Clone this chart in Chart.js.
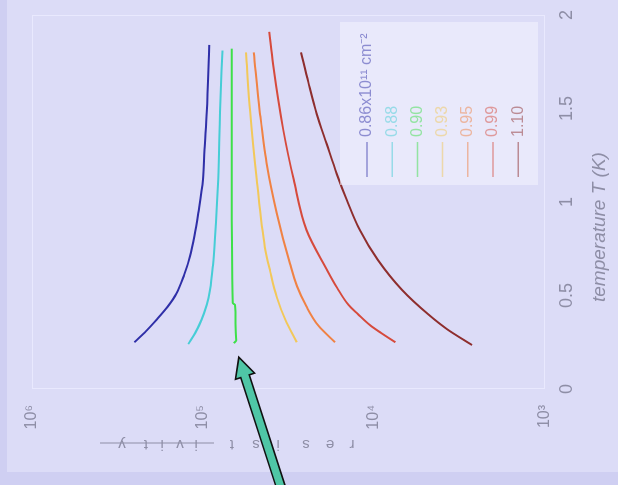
<!DOCTYPE html>
<html>
<head>
<meta charset="utf-8">
<script src="https://cdn.jsdelivr.net/npm/chart.js@4/dist/chart.umd.min.js"></script>
<style>
  html, body { margin: 0; padding: 0; width: 618px; height: 485px; overflow: hidden; background: #cfcff2; }
  /* the figure is laid out upright and then turned a quarter turn counter-clockwise */
  #frame { position: absolute; left: 0; top: 0; width: 485px; height: 618px;
           transform-origin: 0 0; transform: translate(0, 485px) rotate(-90deg); }
</style>
</head>
<body>
<div id="frame"><canvas id="c" width="485" height="618"></canvas></div>
<script>
// electron densities of the seven samples
const densities = ['0.86x10\u00B9\u00B9 cm\u207B\u00B2', '0.88', '0.90', '0.93', '0.95', '0.99', '1.10'];
const lineColors = ['#2f2fa8', '#46cdd6', '#3ee04a', '#f2c85a', '#f08244', '#d64a3c', '#8e2e2e'];

// temperature (K) and resistivity (ohm) for each density
const t086 = [0.25, 0.31, 0.37, 0.44, 0.51, 0.61, 0.71, 0.82, 0.94, 1.12, 1.28, 1.48, 1.84];
const r086 = [2.52e5, 2.15e5, 1.87e5, 1.61e5, 1.43e5, 1.29e5, 1.19e5, 1.12e5, 1.065e5, 1.0e5, 9.8e4, 9.5e4, 9.2e4];

const t088 = [0.24, 0.30, 0.37, 0.45, 0.53, 0.66, 0.81, 1.12, 1.48, 1.81];
const r088 = [1.22e5, 1.11e5, 1.02e5, 9.5e4, 9.1e4, 8.75e4, 8.5e4, 8.15e4, 7.95e4, 7.7e4];

const t090 = [0.245, 0.26, 0.35, 0.45, 0.46, 0.6, 0.9, 1.2, 1.5, 1.82];
const r090 = [6.6e4, 6.4e4, 6.45e4, 6.5e4, 6.7e4, 6.75e4, 6.78e4, 6.8e4, 6.78e4, 6.8e4];

const t093 = [0.25, 0.37, 0.49, 0.63, 0.76, 1.12, 1.48, 1.80];
const r093 = [2.83e4, 3.3e4, 3.7e4, 4.05e4, 4.35e4, 4.85e4, 5.3e4, 5.6e4];

const t095 = [0.25, 0.34, 0.44, 0.55, 0.67, 0.94, 1.21, 1.48, 1.80];
const r095 = [1.69e4, 2.12e4, 2.48e4, 2.82e4, 3.1e4, 3.7e4, 4.25e4, 4.65e4, 5.05e4];

const t099 = [0.25, 0.30, 0.34, 0.40, 0.45, 0.54, 0.64, 0.85, 1.12, 1.39, 1.74, 1.91];
const r099 = [7.5e3, 9.1e3, 1.05e4, 1.24e4, 1.41e4, 1.64e4, 1.89e4, 2.48e4, 2.95e4, 3.4e4, 3.9e4, 4.1e4];

const t110 = [0.235, 0.32, 0.40, 0.53, 0.69, 0.85, 1.01, 1.15, 1.31, 1.47, 1.64, 1.80];
const r110 = [2.67e3, 3.74e3, 4.83e3, 6.86e3, 9.5e3, 1.21e4, 1.44e4, 1.65e4, 1.89e4, 2.16e4, 2.42e4, 2.67e4];

// axis ticks
const tempTicks = [0, 0.5, 1, 1.5, 2];
const tempLabels = ['0', '0.5', '1', '1.5', '2'];
const decadeValues = [1e3, 1e4, 1e5, 1e6];
const decadeLabels = ['10\u00B3', '10\u2074', '10\u2075', '10\u2076'];

const series = [[t086, r086], [t088, r088], [t090, r090], [t093, r093], [t095, r095], [t099, r099], [t110, r110]];

const FONT = '"Liberation Sans", Arial, sans-serif';
const GREY = '#8e8ea6';

const datasets = series.map(([ts, rs], i) => ({
  label: densities[i],
  data: ts.map((t, j) => ({ x: t, y: rs[j] })),
  borderColor: lineColors[i],
  backgroundColor: lineColors[i],
  borderWidth: 2,
  pointRadius: 0,
  showLine: true,
  cubicInterpolationMode: 'monotone'
}));

// page tint, plot frame
const backdrop = {
  id: 'backdrop',
  beforeDraw(chart) {
    const ctx = chart.ctx, a = chart.chartArea;
    ctx.save();
    ctx.fillStyle = '#cfcff2';
    ctx.fillRect(0, 0, chart.width, chart.height);
    ctx.fillStyle = '#dcdcf7';
    ctx.fillRect(13, 7, chart.width - 13, chart.height - 7);
    ctx.strokeStyle = 'rgba(236,236,255,0.8)';
    ctx.lineWidth = 1;
    ctx.strokeRect(a.left + 0.5, a.top + 0.5, a.right - a.left - 1, a.bottom - a.top - 1);
    ctx.restore();
  }
};

// axis titles
const titles = {
  id: 'titles',
  afterDraw(chart) {
    const ctx = chart.ctx, a = chart.chartArea;
    ctx.save();
    ctx.fillStyle = GREY;
    ctx.textBaseline = 'middle';
    ctx.textAlign = 'left';
    ctx.font = 'italic 19px ' + FONT;
    ctx.fillText('temperature T (K)', a.left + 87, a.bottom + 55);

    // vertical title, letters spread along the axis
    ctx.font = '15px ' + FONT;
    ctx.textAlign = 'center';
    const head = [['r', 352], ['e', 330], ['s', 306], ['i', 278], ['s', 256], ['t', 232]];
    const tail = [['i', 196], ['v', 180], ['i', 162], ['t', 146], ['y', 122]];
    const u = 41;
    [...head, ...tail].forEach(([ch, v]) => {
      ctx.save();
      ctx.translate(u, v);
      ctx.rotate(-Math.PI / 2);
      ctx.fillText(ch, 0, 0);
      ctx.restore();
    });
    ctx.strokeStyle = GREY;
    ctx.lineWidth = 1;
    ctx.beginPath();
    ctx.moveTo(u + 1, 100);
    ctx.lineTo(u + 1, 214);
    ctx.stroke();
    ctx.restore();
  }
};

// legend box in the lower right of the plot
const legendBox = {
  id: 'legendBox',
  afterDatasetsDraw(chart) {
    const ctx = chart.ctx;
    const x0 = 300, y0 = 340, w = 163, h = 198;
    ctx.save();
    ctx.fillStyle = 'rgba(244,244,255,0.55)';
    ctx.fillRect(x0, y0, w, h);
    ctx.globalAlpha = 0.5;
    ctx.font = '16px ' + FONT;
    ctx.textBaseline = 'middle';
    ctx.textAlign = 'left';
    chart.data.datasets.forEach((ds, i) => {
      const y = y0 + 27 + i * 25.2;
      ctx.strokeStyle = ds.borderColor;
      ctx.lineWidth = 1.5;
      ctx.beginPath();
      ctx.moveTo(x0 + 8, y);
      ctx.lineTo(x0 + 43, y);
      ctx.stroke();
      ctx.fillStyle = ds.borderColor;
      ctx.fillText(ds.label, x0 + 48, y);
    });
    ctx.restore();
  }
};

// pointer to the low-temperature end of the 0.90 curve
const pointer = {
  id: 'pointer',
  afterDraw(chart) {
    const meta = chart.getDatasetMeta(2);
    const p = meta.data[0];
    const ctx = chart.ctx;
    const tip = { x: p.x - 14, y: p.y + 5 };
    const tail = { x: p.x - 150, y: p.y + 49 };
    const len = Math.hypot(tail.x - tip.x, tail.y - tip.y);
    const dx = (tail.x - tip.x) / len, dy = (tail.y - tip.y) / len;
    const nx = -dy, ny = dx;
    const hl = 20, hw = 10, sw = 4.5;
    const bx = tip.x + dx * hl, by = tip.y + dy * hl;
    ctx.save();
    ctx.beginPath();
    ctx.moveTo(tip.x, tip.y);
    ctx.lineTo(bx + nx * hw, by + ny * hw);
    ctx.lineTo(bx + nx * sw, by + ny * sw);
    ctx.lineTo(tail.x + nx * sw, tail.y + ny * sw);
    ctx.lineTo(tail.x - nx * sw, tail.y - ny * sw);
    ctx.lineTo(bx - nx * sw, by - ny * sw);
    ctx.lineTo(bx - nx * hw, by - ny * hw);
    ctx.closePath();
    ctx.fillStyle = '#4fc6a6';
    ctx.fill();
    ctx.strokeStyle = '#111';
    ctx.lineWidth = 1.6;
    ctx.lineJoin = 'miter';
    ctx.stroke();
    ctx.restore();
  }
};

new Chart(document.getElementById('c'), {
  type: 'scatter',
  data: { datasets },
  options: {
    responsive: false,
    animation: false,
    layout: { padding: { top: 32, right: 15, left: 0, bottom: 0 } },
    plugins: { legend: { display: false }, tooltip: { enabled: false } },
    scales: {
      x: {
        type: 'linear', min: 0, max: 2,
        afterBuildTicks: s => { s.ticks = tempTicks.map(v => ({ value: v })); },
        ticks: {
          color: GREY, font: { size: 18, family: FONT }, padding: 3,
          callback: v => tempLabels[tempTicks.indexOf(v)]
        },
        grid: { display: false },
        border: { display: false },
        afterFit: s => { s.height = 73; }
      },
      y: {
        type: 'logarithmic', min: 1e3, max: 1e6,
        afterBuildTicks: s => { s.ticks = decadeValues.map(v => ({ value: v })); },
        ticks: {
          color: GREY, font: { size: 16, family: FONT }, padding: 8,
          callback: v => decadeLabels[decadeValues.indexOf(v)]
        },
        grid: { display: false },
        border: { display: false },
        afterFit: s => { s.width = 96; }
      }
    }
  },
  plugins: [backdrop, legendBox, titles, pointer]
});
</script>
</body>
</html>
